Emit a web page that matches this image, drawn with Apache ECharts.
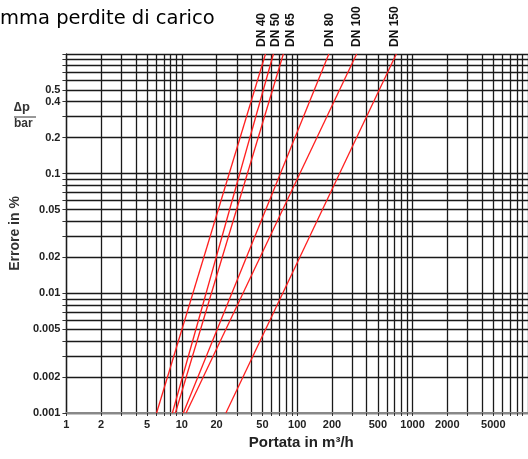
<!DOCTYPE html>
<html>
<head>
<meta charset="utf-8">
<script src="https://cdn.jsdelivr.net/npm/echarts@6/dist/echarts.min.js"></script>
<style>
  html, body { margin: 0; padding: 0; background: #fff; }
  #chart { width: 528px; height: 459px; }
</style>
</head>
<body>
<div id="chart"></div>
<script>
// pressure drop lines, straight in log-log: flow at 0.001 bar and at 1 bar
const diameters = ['DN 40', 'DN 50', 'DN 65', 'DN 80', 'DN 100', 'DN 150'];
const flowAtMin = [6.04, 8.28, 8.8, 10.3, 10.9, 24.1];
const flowAtMax = [53.1, 62.2, 75.8, 188, 327, 722];
const dpRange = [0.001, 1];

const xLabels = [1, 2, 5, 10, 20, 50, 100, 200, 500, 1000, 2000, 5000];
const yLabels = [0.001, 0.002, 0.005, 0.01, 0.02, 0.05, 0.1, 0.2, 0.4, 0.5];
const xGrid = [1, 2, 3, 4, 5, 6, 7, 8, 9, 10, 20, 30, 40, 50, 60, 70, 80, 90,
  100, 200, 300, 400, 500, 600, 700, 800, 900, 1000, 2000, 3000, 4000, 5000,
  6000, 7000, 8000, 9000, 10000];
const yGrid = [0.001, 0.002, 0.003, 0.004, 0.005, 0.006, 0.007, 0.008, 0.009,
  0.01, 0.02, 0.03, 0.04, 0.05, 0.06, 0.07, 0.08, 0.09,
  0.1, 0.2, 0.3, 0.4, 0.5, 0.6, 0.7, 0.8, 0.9, 1];

// sideways nudge of the DN labels so they don't overlap (px)
const labelShift = [-4, 2, 7, 1, 0, -2];

const chart = echarts.init(document.getElementById('chart'));

const labelStyle = {
  color: '#222',
  fontFamily: 'Liberation Sans',
  fontWeight: 'bold',
  fontSize: 11
};
const fmt = v => String(+(+v).toPrecision(3));

const series = diameters.map((name, i) => ({
  name: name,
  type: 'line',
  symbol: 'none',
  silent: true,
  lineStyle: { color: '#ff1f1f', width: 1.3 },
  data: [[flowAtMin[i], dpRange[0]], [flowAtMax[i], dpRange[1]]],
  markPoint: {
    symbol: 'circle',
    symbolSize: 0,
    data: [{ coord: [flowAtMax[i], dpRange[1]] }],
    label: {
      show: true,
      formatter: name,
      rotate: 90,
      position: [labelShift[i], -7],
      align: 'left',
      verticalAlign: 'middle',
      color: '#111',
      fontFamily: 'Liberation Sans',
      fontWeight: 'bold',
      fontSize: 12
    }
  }
}));

chart.setOption({
  animation: false,
  backgroundColor: '#fff',
  grid: { left: 62, top: 54, right: 0, bottom: 46 },
  xAxis: {
    type: 'log',
    logBase: 10,
    min: 1,
    max: 10000,
    name: 'Portata in m³/h',
    nameLocation: 'middle',
    nameGap: 20,
    nameTextStyle: {
      color: '#222', fontFamily: 'Liberation Sans', fontWeight: 'bold', fontSize: 15,
      padding: [0, 0, 0, 8]
    },
    axisLine: { show: true, lineStyle: { color: '#888', width: 2 } },
    axisTick: { show: true, length: 3, lineStyle: { color: '#333' }, customValues: xGrid },
    axisLabel: Object.assign({ customValues: xLabels, formatter: fmt, margin: 6 }, labelStyle),
    splitLine: { show: true, lineStyle: { color: '#1a1a1a', width: 1.3 } }
  },
  yAxis: {
    type: 'log',
    logBase: 10,
    min: 0.001,
    max: 1,
    name: 'Errore in %',
    nameLocation: 'middle',
    nameGap: 33,
    nameTextStyle: {
      color: '#333', fontFamily: 'Liberation Sans', fontWeight: 'bold', fontSize: 14
    },
    axisLine: { show: true, lineStyle: { color: '#1a1a1a', width: 1.3 } },
    axisTick: { show: true, length: 4, lineStyle: { color: '#333' }, customValues: yGrid },
    axisLabel: Object.assign({ customValues: yLabels, formatter: fmt, margin: 6 }, labelStyle),
    splitLine: { show: true, lineStyle: { color: '#1a1a1a', width: 1.3 } }
  },
  graphic: [
    {
      type: 'text', left: 0, top: 9,
      style: { text: 'mma perdite di carico', fill: '#000', font: '19.5px "DejaVu Sans"' }
    },
    {
      type: 'text', left: 14, top: 101,
      style: { text: '∆p', fill: '#333', font: 'bold 13px "Liberation Sans"' }
    },
    {
      type: 'line', shape: { x1: 14, y1: 117, x2: 36, y2: 117 },
      style: { stroke: '#333', lineWidth: 1 }
    },
    {
      type: 'text', left: 14, top: 118,
      style: { text: 'bar', fill: '#333', font: 'bold 12px "Liberation Sans"' }
    }
  ],
  series: series
});
</script>
</body>
</html>
